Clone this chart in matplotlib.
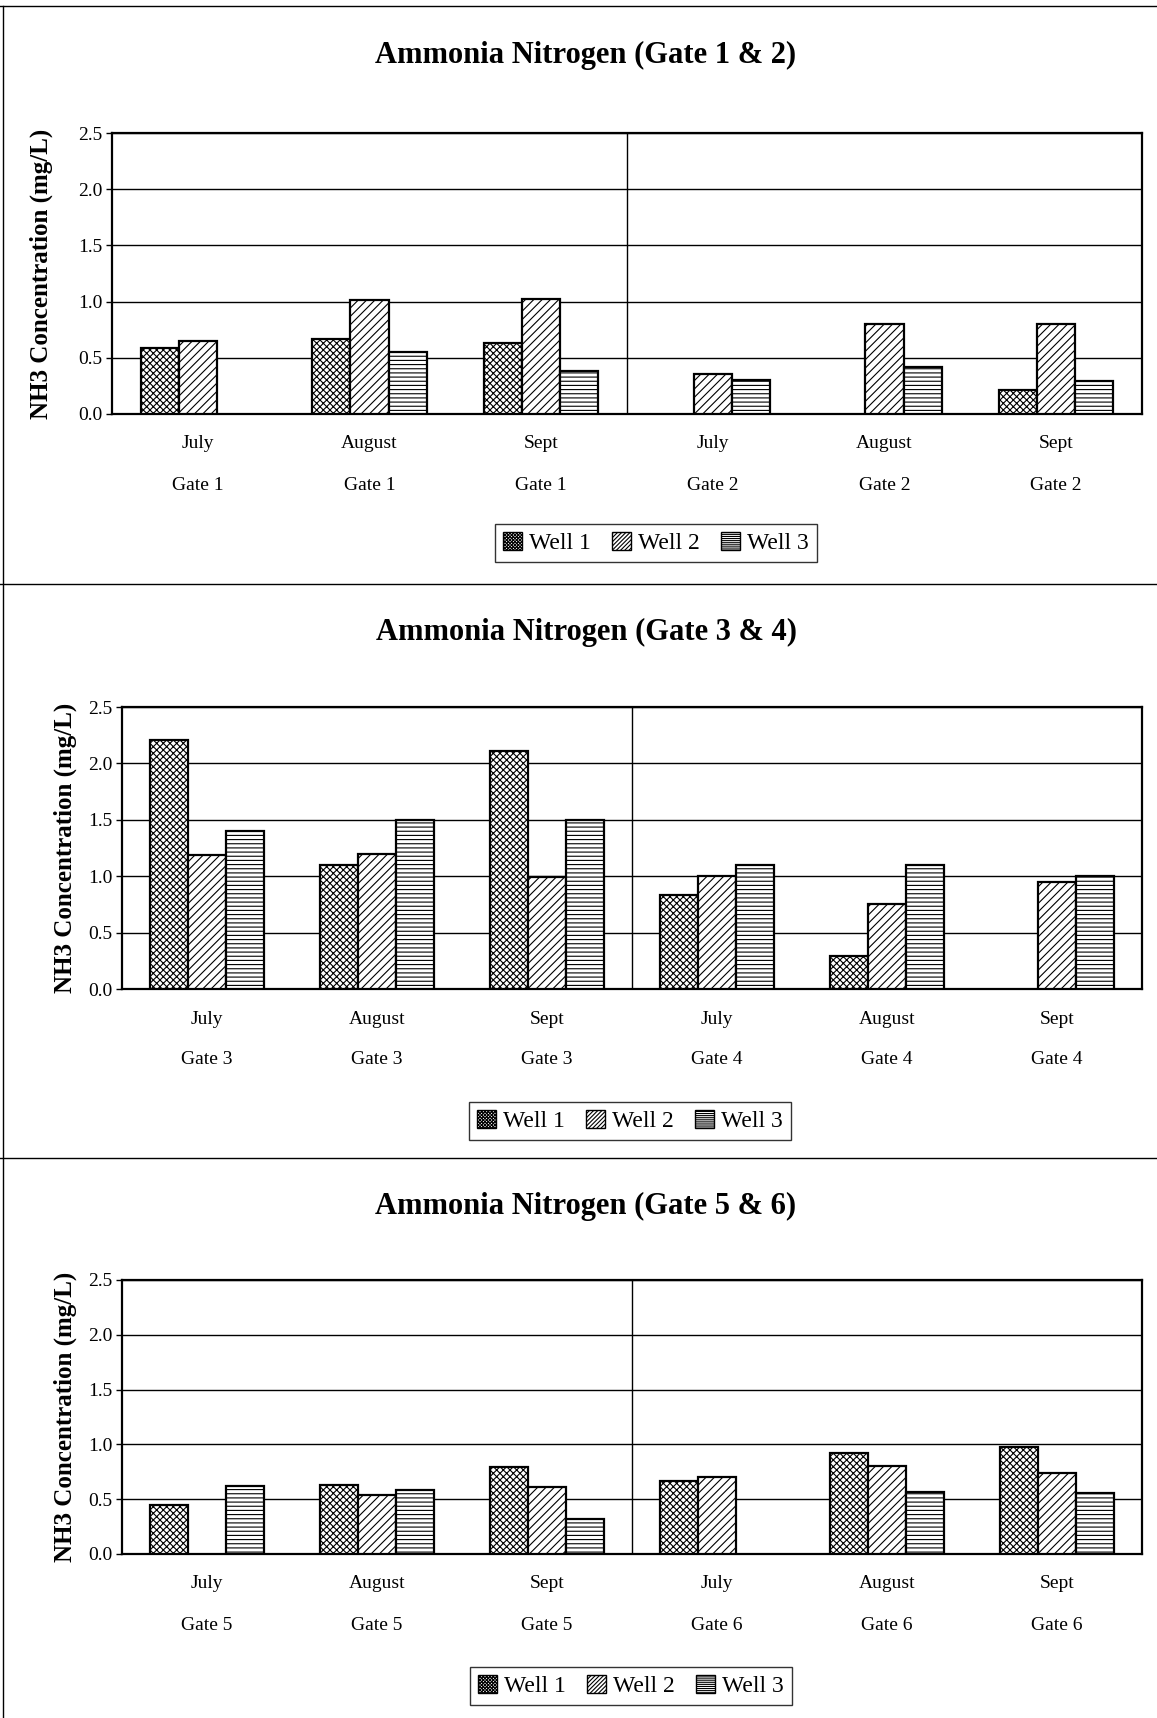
import numpy as np
import matplotlib
matplotlib.use('Agg')
import matplotlib.pyplot as plt
from matplotlib.patches import Patch
from matplotlib.lines import Line2D

plt.rcParams['font.family'] = ['Liberation Serif', 'DejaVu Serif']
plt.rcParams['hatch.linewidth'] = 0.8

# data (nan = no bar)
months = ['July', 'August', 'Sept']
wells = ['Well 1', 'Well 2', 'Well 3']

gates_12 = ['Gate 1', 'Gate 2']
well1_g12 = [0.59, 0.67, 0.63, np.nan, np.nan, 0.21]
well2_g12 = [0.65, 1.01, 1.02, 0.36, 0.80, 0.80]
well3_g12 = [np.nan, 0.55, 0.38, 0.30, 0.42, 0.29]

gates_34 = ['Gate 3', 'Gate 4']
well1_g34 = [2.21, 1.10, 2.11, 0.83, 0.29, np.nan]
well2_g34 = [1.19, 1.20, 0.99, 1.00, 0.75, 0.95]
well3_g34 = [1.40, 1.50, 1.50, 1.10, 1.10, 1.00]

gates_56 = ['Gate 5', 'Gate 6']
well1_g56 = [0.45, 0.63, 0.79, 0.67, 0.92, 0.98]
well2_g56 = [np.nan, 0.54, 0.61, 0.70, 0.80, 0.74]
well3_g56 = [0.62, 0.58, 0.32, np.nan, 0.57, 0.56]

hatches = ['xxxxx', '////', '----']

W, H = 1157, 1718
fig = plt.figure(figsize=(W / 100, H / 100), dpi=100)


def px_box(left, top, right, bottom):
    return [left / W, 1 - bottom / H, (right - left) / W, (bottom - top) / H]


def draw_panel(box, title, title_y, gates, w1, w2, w3, leg_xy, ypad):
    ax = fig.add_axes(px_box(*box))
    n = len(gates) * len(months)
    x = np.arange(n)
    bw = 1 / 4.5
    for i, vals in enumerate([w1, w2, w3]):
        vals = np.array(vals, dtype=float)
        ok = ~np.isnan(vals)
        ax.bar(x[ok] + (i - 1) * bw, vals[ok], width=bw, facecolor='white',
               edgecolor='black', linewidth=1.6, hatch=hatches[i], zorder=3)
    ax.set_xlim(-0.5, n - 0.5)
    ax.set_ylim(0, 2.5)
    ax.set_yticks(np.arange(0, 2.51, 0.5))
    ax.set_yticklabels(['%.1f' % v for v in np.arange(0, 2.51, 0.5)], fontsize=14)
    ax.tick_params(axis='y', length=4, width=1, pad=3)
    ax.set_xticks([])
    ax.grid(axis='y', color='black', linewidth=1, zorder=0)
    ax.axvline(len(months) - 0.5, color='black', linewidth=1, zorder=1)
    for s in ax.spines.values():
        s.set_linewidth(1.6)
    ax.set_ylabel('NH3 Concentration (mg/L)', fontsize=18, fontweight='bold', labelpad=ypad)

    for k in range(n):
        g = gates[k // len(months)]
        m = months[k % len(months)]
        ax.annotate(m, xy=(k, 0), xycoords=('data', 'axes fraction'),
                    xytext=(0, -30 * 0.72), textcoords='offset points',
                    ha='center', va='center', fontsize=14)
        ax.annotate(g, xy=(k, 0), xycoords=('data', 'axes fraction'),
                    xytext=(0, -71 * 0.72), textcoords='offset points',
                    ha='center', va='center', fontsize=14)

    fig.text(586 / W, 1 - title_y / H, title, ha='center', va='center',
             fontsize=22, fontweight='bold')

    handles = [Patch(facecolor='white', edgecolor='black', hatch=h * 2) for h in hatches]
    leg = fig.legend(handles, wells, loc='center',
                     bbox_to_anchor=(leg_xy[0] / W, 1 - leg_xy[1] / H),
                     ncol=3, fontsize=17, frameon=True, fancybox=False,
                     edgecolor='black', handlelength=0.8, handleheight=0.8,
                     handletextpad=0.3, columnspacing=0.9, borderpad=0.35)
    leg.get_frame().set_linewidth(1)
    return ax


draw_panel((112, 133, 1142, 414), 'Ammonia Nitrogen (Gate 1 & 2)', 55,
           gates_12, well1_g12, well2_g12, well3_g12, (656, 543), 18)
draw_panel((122, 707, 1142, 989), 'Ammonia Nitrogen (Gate 3 & 4)', 632,
           gates_34, well1_g34, well2_g34, well3_g34, (630, 1121), 8)
draw_panel((122, 1280, 1142, 1554), 'Ammonia Nitrogen (Gate 5 & 6)', 1206,
           gates_56, well1_g56, well2_g56, well3_g56, (631, 1686), 8)

# page frame lines of the scanned report
for y in [6, 584, 1158]:
    fig.add_artist(Line2D([0, 1], [1 - y / H, 1 - y / H], color='black',
                          linewidth=1, transform=fig.transFigure))
fig.add_artist(Line2D([3 / W, 3 / W], [0, 1 - 6 / H], color='black',
                      linewidth=1, transform=fig.transFigure))

fig.savefig('out.png', dpi=100, facecolor='white')
